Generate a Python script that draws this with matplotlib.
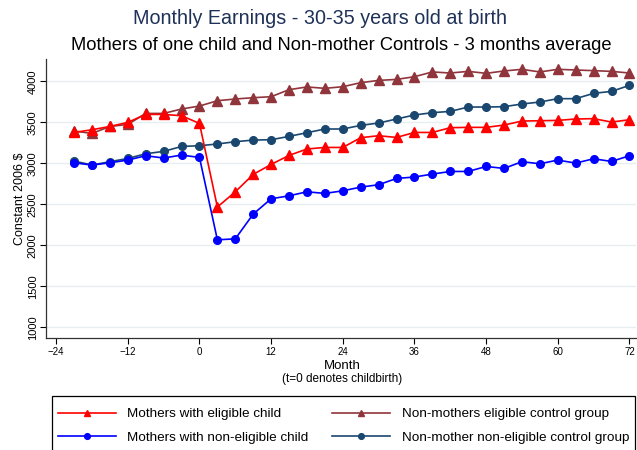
import numpy as np
import matplotlib.pyplot as plt
from matplotlib.patches import Rectangle

plt.rcParams['font.family'] = ['Liberation Sans', 'DejaVu Sans']

# months relative to childbirth, 3-month averages
months = np.arange(-21, 73, 3)

mothers_elig = [3377, 3410, 3450, 3500, 3597, 3597, 3581, 3487, 2467, 2653,
                2865, 2987, 3097, 3175, 3194, 3194, 3313, 3337, 3316, 3377,
                3377, 3435, 3439, 3439, 3467, 3516, 3520, 3524, 3541, 3545,
                3504, 3532]
mothers_nonelig = [3007, 2979, 3007, 3040, 3093, 3065, 3101, 3072, 2067, 2079,
                   2381, 2568, 2604, 2653, 2633, 2665, 2710, 2739, 2816, 2833,
                   2869, 2901, 2901, 2962, 2938, 3020, 2995, 3040, 3003, 3056,
                   3023, 3093]
nonmothers_elig = [3394, 3365, 3450, 3475, 3609, 3609, 3663, 3699, 3764, 3785,
                   3801, 3813, 3899, 3932, 3915, 3935, 3984, 4012, 4024, 4057,
                   4115, 4102, 4122, 4098, 4127, 4147, 4115, 4147, 4139, 4131,
                   4122, 4102]
nonmothers_nonelig = [3028, 2979, 3020, 3060, 3117, 3146, 3206, 3215, 3236, 3264,
                      3284, 3288, 3329, 3374, 3419, 3419, 3463, 3492, 3541, 3590,
                      3618, 3634, 3687, 3687, 3691, 3724, 3748, 3789, 3789, 3854,
                      3878, 3951]

labels = ["Mothers with eligible child", "Mothers with non-eligible child",
          "Non-mothers eligible control group", "Non-mother non-eligible control group"]

W, H = 637, 450
fig = plt.figure(figsize=(W / 100, H / 100), dpi=100)
fig.patch.set_facecolor('white')
ax = fig.add_axes([46 / W, 1 - 337.7 / H, (636 - 46) / W, (337.7 - 59) / H])

lw = 1.2
l1, = ax.plot(months, nonmothers_elig, color='#90353b', marker='^', ms=6.5, lw=lw)
l2, = ax.plot(months, nonmothers_nonelig, color='#1a476f', marker='o', ms=5.5, lw=lw)
l3, = ax.plot(months, mothers_nonelig, color='#0000ff', marker='o', ms=5.5, lw=lw)
l4, = ax.plot(months, mothers_elig, color='#ff0000', marker='^', ms=6.5, lw=lw)

ax.set_xlim(-25.7, 73.1)
ax.set_ylim(873, 4273)
ax.set_xticks(np.arange(-24, 73, 12))
ax.set_yticks(np.arange(1000, 4001, 500))
ax.tick_params(axis='x', labelsize=7, length=4, width=0.8, direction='out', pad=3)
ax.tick_params(axis='y', labelsize=8, length=4, width=0.8, direction='out',
               labelrotation=90, pad=2)
for t in ax.get_yticklabels():
    t.set_va('center')
ax.grid(axis='y', color='#e6eef0', lw=1.0)
ax.set_axisbelow(True)
for s in ['top', 'right']:
    ax.spines[s].set_visible(False)
for s in ['left', 'bottom']:
    ax.spines[s].set_linewidth(0.9)
    ax.spines[s].set_color('#333333')

ax.set_ylabel("Constant 2006 $", fontsize=9, labelpad=1)
fig.text(342 / W, 1 - 366 / H, "Month", ha='center', va='center', fontsize=9.5)
fig.text(342 / W, 1 - 379 / H, "(t=0 denotes childbirth)", ha='center',
         va='center', fontsize=8.5)

fig.text(320 / W, 1 - 18 / H, "Monthly Earnings - 30-35 years old at birth",
         ha='center', va='center', fontsize=14.2, color='#1f3158')
fig.text(341 / W, 1 - 46 / H,
         "Mothers of one child and Non-mother Controls - 3 months average",
         ha='center', va='center', fontsize=13.2, color='black')

# legend box runs off the bottom edge
fig.patches.append(Rectangle((52 / W, -0.05), (635 - 52) / W, 0.05 + 1 - 396 / H,
                             transform=fig.transFigure, fill=False,
                             edgecolor='black', lw=0.9))
fig.legend([l4, l3, l1, l2], labels, ncol=2, loc='upper left',
           bbox_to_anchor=(58 / W, 1 - 408 / H), frameon=False, fontsize=9.7,
           handlelength=4.3, handletextpad=0.85, columnspacing=1.75,
           labelspacing=0.8, markerscale=0.75, borderaxespad=0, borderpad=0)

fig.savefig('out.png', dpi=100)
